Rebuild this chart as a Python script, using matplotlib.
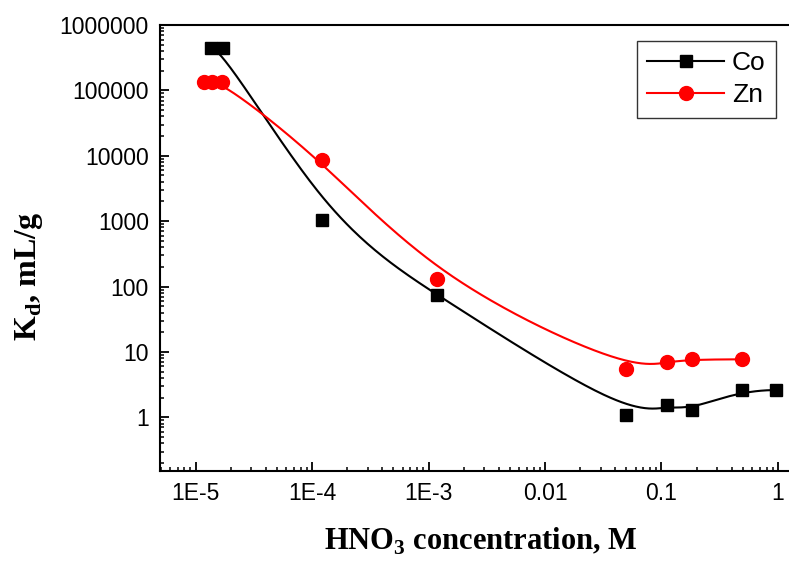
import numpy as np
import matplotlib.pyplot as plt
from matplotlib.ticker import FixedLocator, LogLocator, NullFormatter

plt.rcParams['mathtext.fontset'] = 'custom'
plt.rcParams['mathtext.rm'] = 'Liberation Serif'
plt.rcParams['mathtext.bf'] = 'Liberation Serif:bold'

# Data
co_x = [1.35e-5, 1.71e-5, 1.22e-4, 1.19e-3, 0.0493, 0.112, 0.184, 0.488, 0.96]
co_y = [4.48e5, 4.48e5, 1040, 74, 1.08, 1.52, 1.28, 2.61, 2.61]
zn_x = [1.17e-5, 1.38e-5, 1.68e-5, 1.22e-4, 1.19e-3, 0.0493, 0.112, 0.184, 0.488]
zn_y = [1.36e5, 1.36e5, 1.36e5, 8600, 129, 5.48, 7.0, 7.7, 7.7]

x_ticks = [1e-5, 1e-4, 1e-3, 0.01, 0.1, 1]
x_ticklabels = ['1E-5', '1E-4', '1E-3', '0.01', '0.1', '1']
y_ticks = [1, 10, 100, 1000, 10000, 100000, 1000000]
y_ticklabels = ['1', '10', '100', '1000', '10000', '100000', '1000000']


def bspline(xs, ys, n=400):
    # clamped cubic B-spline using the points as control points (log space)
    P = np.column_stack([np.log10(xs), np.log10(ys)])
    k = 3
    m = len(P)
    inner = np.linspace(0, 1, m - k + 1)
    t = np.concatenate([[0] * k, inner, [1] * k])
    u = np.linspace(0, 1, n)
    u[-1] = 1 - 1e-9
    N = np.zeros((n, len(t) - 1))
    for i in range(len(t) - 1):
        N[:, i] = (u >= t[i]) & (u < t[i + 1])
    for d in range(1, k + 1):
        Nn = np.zeros((n, len(t) - 1 - d))
        for i in range(len(t) - 1 - d):
            a = 0.0
            if t[i + d] > t[i]:
                a = (u - t[i]) / (t[i + d] - t[i]) * N[:, i]
            b = 0.0
            if t[i + d + 1] > t[i + 1]:
                b = (t[i + d + 1] - u) / (t[i + d + 1] - t[i + 1]) * N[:, i + 1]
            Nn[:, i] = a + b
        N = Nn
    C = N @ P
    return 10 ** C[:, 0], 10 ** C[:, 1]


fig = plt.figure(figsize=(7.89, 5.65), dpi=100)
ax = fig.add_axes([160 / 789, 94 / 565, 642 / 789, 446 / 565])

cx, cy = bspline(co_x, co_y)
zx, zy = bspline(zn_x, zn_y)
ax.plot(cx, cy, color='black', lw=1.5)
ax.plot(zx, zy, color='red', lw=1.5)
ax.plot(co_x, co_y, ls='none', marker='s', ms=8, color='black')
ax.plot(zn_x, zn_y, ls='none', marker='o', ms=10, color='red')

# legend handles
ax.plot([], [], color='black', lw=1.5, marker='s', ms=8, label='Co')
ax.plot([], [], color='red', lw=1.5, marker='o', ms=10, label='Zn')

ax.set_xscale('log')
ax.set_yscale('log')
ax.set_xlim(4.95e-6, 1.61)
ax.set_ylim(0.151, 1e6)

ax.xaxis.set_major_locator(FixedLocator(x_ticks))
ax.set_xticklabels(x_ticklabels)
ax.yaxis.set_major_locator(FixedLocator(y_ticks))
ax.set_yticklabels(y_ticklabels)
ax.xaxis.set_minor_locator(LogLocator(base=10, subs=np.arange(2, 10), numticks=20))
ax.yaxis.set_minor_locator(LogLocator(base=10, subs=np.arange(2, 10), numticks=20))
ax.xaxis.set_minor_formatter(NullFormatter())
ax.yaxis.set_minor_formatter(NullFormatter())

ax.tick_params(which='major', direction='in', length=6.5, width=1.3,
               top=False, right=False, labelsize=16.5, pad=8)
ax.tick_params(which='minor', direction='in', length=3.2, width=1.1,
               top=False, right=False)
for lab in ax.get_xticklabels() + ax.get_yticklabels():
    lab.set_fontfamily('Liberation Sans')
for s in ax.spines.values():
    s.set_linewidth(1.5)
ax.spines['right'].set_visible(False)

ax.set_xlabel('HNO$_\\mathbf{3}$ concentration, M', fontsize=22, fontweight='bold',
              family='Liberation Serif', labelpad=15)
fig.text(0.037, 1 - 276 / 565, 'K$_\\mathbf{d}$, mL/g', fontsize=23, fontweight='bold',
         family='Liberation Serif', rotation=90, ha='center', va='center')

leg = ax.legend(loc='upper left', bbox_to_anchor=(636.7 / 789, 1 - 40.7 / 565),
                bbox_transform=fig.transFigure, fancybox=False, edgecolor='black',
                prop={'family': 'Liberation Sans', 'size': 19}, handlelength=2.9,
                borderaxespad=0, handletextpad=0.3, labelspacing=0.3, borderpad=0.4)
leg.get_frame().set_linewidth(1.0)

fig.savefig('out.png', dpi=100)
